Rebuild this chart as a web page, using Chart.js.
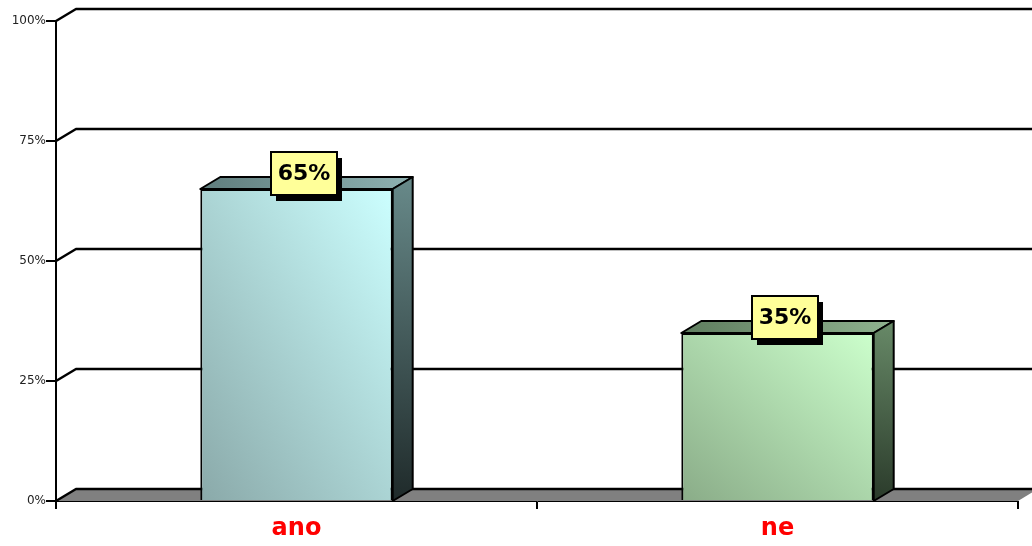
<!DOCTYPE html>
<html>
<head>
<meta charset="utf-8">
<style>
  html, body { margin: 0; padding: 0; background: #fff; }
  #wrap { width: 1032px; height: 546px; }
</style>
<script src="https://cdn.jsdelivr.net/npm/chart.js@4"></script>
</head>
<body>
<div id="wrap"><canvas id="barChart" width="1032" height="546"></canvas></div>
<script>
const categories = ["ano", "ne"];
const percentValues = [65, 35];
const valueTicks = [0, 25, 50, 75, 100];

// front face colours, dark corner to light corner
const frontDark = ["#8aa9a9", "#8aac88"];
const frontLight = ["#ccffff", "#ccffcc"];
const topDark = ["#5f7d7d", "#5f7d5f"];
const topLight = ["#8fb2b2", "#8fb28f"];
const sideDark = ["#1f2a2a", "#2a3a2a"];
const sideLight = ["#688a8a", "#688a68"];

// 3D offset of the back wall
const depthX = 20;
const depthY = -12;

function barBox(chart, i) {
    const x = chart.scales.x, y = chart.scales.y;
    const slot = (x.right - x.left) / categories.length;
    const w = slot * 0.4;
    const cx = x.getPixelForValue(i);
    return { left: cx - w / 2, right: cx + w / 2, top: y.getPixelForValue(percentValues[i]), bottom: y.getPixelForValue(0) };
}

// corner to corner gradient whose midline runs through the other two corners
function frontGradient(chart, i) {
    const b = barBox(chart, i);
    const w = b.right - b.left, h = b.bottom - b.top;
    const cx = (b.left + b.right) / 2, cy = (b.top + b.bottom) / 2;
    const k = w * h / (w * w + h * h);
    const g = chart.ctx.createLinearGradient(cx - h * k, cy + w * k, cx + h * k, cy - w * k);
    g.addColorStop(0, frontDark[i]);
    g.addColorStop(1, frontLight[i]);
    return g;
}

function poly(ctx, pts, fill) {
    ctx.beginPath();
    pts.forEach((p, n) => n ? ctx.lineTo(p[0], p[1]) : ctx.moveTo(p[0], p[1]));
    ctx.closePath();
    ctx.fillStyle = fill;
    ctx.fill();
    ctx.stroke();
}

// floor and back wall lines
const wallPlugin = {
    id: "wall",
    beforeDatasetsDraw(chart) {
        const { ctx, scales: { x, y } } = chart;
        const y0 = y.getPixelForValue(0);
        ctx.save();
        ctx.lineJoin = "round";
        ctx.beginPath();
        ctx.moveTo(x.left, y0);
        ctx.lineTo(x.left + depthX, y0 + depthY);
        ctx.lineTo(x.right + depthX, y0 + depthY);
        ctx.lineTo(x.right, y0);
        ctx.closePath();
        ctx.fillStyle = "#808080";
        ctx.fill();
        ctx.strokeStyle = "#000";
        ctx.lineWidth = 2.5;
        valueTicks.forEach(v => {
            const py = y.getPixelForValue(v);
            ctx.beginPath();
            ctx.moveTo(x.left, py);
            ctx.lineTo(x.left + depthX, py + depthY);
            ctx.lineTo(chart.width + 10, py + depthY);
            ctx.stroke();
        });
        ctx.restore();
    }
};

// top and side faces of each bar
const barSidesPlugin = {
    id: "barSides",
    beforeDatasetsDraw(chart) {
        const ctx = chart.ctx;
        ctx.save();
        ctx.strokeStyle = "#000";
        ctx.lineWidth = 2;
        ctx.lineJoin = "round";
        categories.forEach((c, i) => {
            const b = barBox(chart, i);
            const topFill = ctx.createLinearGradient(b.left, b.top, b.right + depthX, b.top + depthY);
            topFill.addColorStop(0, topDark[i]);
            topFill.addColorStop(1, topLight[i]);
            poly(ctx, [[b.left, b.top], [b.left + depthX, b.top + depthY], [b.right + depthX, b.top + depthY], [b.right, b.top]], topFill);
            const sideFill = ctx.createLinearGradient(b.right, b.bottom, b.right + depthX, b.top + depthY);
            sideFill.addColorStop(0, sideDark[i]);
            sideFill.addColorStop(1, sideLight[i]);
            poly(ctx, [[b.right, b.top], [b.right + depthX, b.top + depthY], [b.right + depthX, b.bottom + depthY], [b.right, b.bottom]], sideFill);
        });
        ctx.restore();
    }
};

// yellow value callouts with a hard drop shadow
const calloutPlugin = {
    id: "callouts",
    afterDatasetsDraw(chart) {
        const ctx = chart.ctx;
        ctx.save();
        ctx.font = "bold 22px 'DejaVu Sans'";
        ctx.textAlign = "center";
        ctx.textBaseline = "middle";
        chart.getDatasetMeta(0).data.forEach((bar, i) => {
            const cx = bar.x + 7.5, cy = bar.y - 15.5;
            const left = cx - 33, top = cy - 21.5;
            ctx.fillStyle = "#000";
            ctx.fillRect(left + 5, top + 6, 66, 43);
            ctx.fillStyle = "#ffff99";
            ctx.strokeStyle = "#000";
            ctx.lineWidth = 2;
            ctx.fillRect(left, top, 66, 43);
            ctx.strokeRect(left, top, 66, 43);
            ctx.fillStyle = "#000";
            ctx.fillText(percentValues[i] + "%", cx, cy + 1);
        });
        ctx.restore();
    }
};

new Chart(document.getElementById("barChart").getContext("2d"), {
    type: "bar",
    data: {
        labels: categories,
        datasets: [{
            data: percentValues,
            backgroundColor: c => c.chart.chartArea ? frontGradient(c.chart, c.dataIndex) : "#ccc",
            borderColor: "#000",
            borderWidth: 2,
            barPercentage: 0.4,
            categoryPercentage: 1
        }]
    },
    options: {
        responsive: false,
        animation: false,
        layout: { padding: { top: 21, right: 14, left: 0, bottom: 0 } },
        plugins: { legend: { display: false }, tooltip: { enabled: false } },
        scales: {
            x: {
                afterFit: s => { s.height = 45; },
                grid: { offset: true, drawOnChartArea: false, color: "#000", lineWidth: 2, tickLength: 8 },
                border: { color: "#000", width: 1 },
                ticks: { color: "#ff0000", font: { family: "'DejaVu Sans'", size: 24, weight: "bold" }, padding: 5, maxRotation: 0 }
            },
            y: {
                min: 0,
                max: 100,
                afterFit: s => { s.width = 56; },
                afterBuildTicks: s => { s.ticks = valueTicks.map(v => ({ value: v })); },
                grid: { drawOnChartArea: false, color: "#000", lineWidth: 2, tickLength: 10 },
                border: { color: "#000", width: 2 },
                ticks: { color: "#222", font: { family: "'DejaVu Sans'", size: 12 }, padding: 0, callback: v => v + "%" }
            }
        }
    },
    plugins: [wallPlugin, barSidesPlugin, calloutPlugin]
});
</script>
</body>
</html>
